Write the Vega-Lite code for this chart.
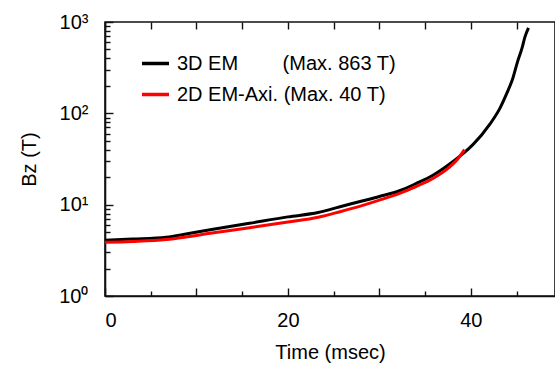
{
  "$schema": "https://vega.github.io/schema/vega-lite/v6.json",
  "width": 450,
  "height": 274,
  "autosize": {"type": "none"},
  "padding": {"left": 105, "top": 22, "right": 0, "bottom": 73},
  "background": "white",
  "config": {
    "view": {"stroke": "#111", "strokeWidth": 1.6},
    "font": "Liberation Sans",
    "axis": {"grid": false, "domainColor": "#111", "domainWidth": 1.6, "tickColor": "#111", "tickWidth": 1.4, "labelColor": "#000", "titleColor": "#000", "labelFont": "Liberation Sans", "titleFont": "Liberation Sans", "titleFontWeight": "normal"}
  },
  "data": {
    "values": [
      {"series": "3D EM", "t": 0, "B": 4.08},
      {"series": "3D EM", "t": 3, "B": 4.2},
      {"series": "3D EM", "t": 6.7, "B": 4.4},
      {"series": "3D EM", "t": 9, "B": 4.8},
      {"series": "3D EM", "t": 11.5, "B": 5.3},
      {"series": "3D EM", "t": 15.8, "B": 6.25},
      {"series": "3D EM", "t": 20, "B": 7.35},
      {"series": "3D EM", "t": 23.3, "B": 8.2},
      {"series": "3D EM", "t": 25.7, "B": 9.5},
      {"series": "3D EM", "t": 28, "B": 10.9},
      {"series": "3D EM", "t": 30, "B": 12.3},
      {"series": "3D EM", "t": 32.2, "B": 14.2},
      {"series": "3D EM", "t": 34, "B": 17},
      {"series": "3D EM", "t": 35.9, "B": 21.1},
      {"series": "3D EM", "t": 37.5, "B": 27},
      {"series": "3D EM", "t": 39.2, "B": 36.6},
      {"series": "3D EM", "t": 40.2, "B": 45.1},
      {"series": "3D EM", "t": 42.1, "B": 76.5},
      {"series": "3D EM", "t": 43.2, "B": 114.6},
      {"series": "3D EM", "t": 43.9, "B": 163},
      {"series": "3D EM", "t": 44.6, "B": 244},
      {"series": "3D EM", "t": 45.1, "B": 366},
      {"series": "3D EM", "t": 45.6, "B": 520},
      {"series": "3D EM", "t": 45.9, "B": 678},
      {"series": "3D EM", "t": 46.3, "B": 863},
      {"series": "2D EM-Axi.", "t": 0, "B": 3.87},
      {"series": "2D EM-Axi.", "t": 3, "B": 3.95},
      {"series": "2D EM-Axi.", "t": 6.7, "B": 4.15},
      {"series": "2D EM-Axi.", "t": 9, "B": 4.45},
      {"series": "2D EM-Axi.", "t": 11.5, "B": 4.86},
      {"series": "2D EM-Axi.", "t": 15.8, "B": 5.6},
      {"series": "2D EM-Axi.", "t": 20, "B": 6.45},
      {"series": "2D EM-Axi.", "t": 23.3, "B": 7.28},
      {"series": "2D EM-Axi.", "t": 25.7, "B": 8.38},
      {"series": "2D EM-Axi.", "t": 28, "B": 9.7},
      {"series": "2D EM-Axi.", "t": 30, "B": 11.2},
      {"series": "2D EM-Axi.", "t": 32.2, "B": 13.3},
      {"series": "2D EM-Axi.", "t": 34, "B": 15.8},
      {"series": "2D EM-Axi.", "t": 35.9, "B": 19.5},
      {"series": "2D EM-Axi.", "t": 37.5, "B": 25},
      {"series": "2D EM-Axi.", "t": 38.5, "B": 31},
      {"series": "2D EM-Axi.", "t": 39.3, "B": 40}
    ]
  },
  "layer": [
    {
      "mark": {"type": "line", "opacity": 0},
      "encoding": {
        "x": {"field": "t", "type": "quantitative", "scale": {"domain": [0, 49.2], "nice": false, "zero": false}, "axis": {"orient": "bottom", "offset": -8, "values": [0, 10, 20, 30, 40], "tickSize": 8, "labels": false, "domain": false, "title": null}},
        "y": {"field": "B", "type": "quantitative", "scale": {"type": "log", "domain": [1, 1000], "nice": false}, "axis": {"orient": "left", "offset": -8, "values": [1, 10, 100, 1000], "tickSize": 8, "labels": false, "domain": false, "title": null}}
      }
    },
    {
      "mark": {"type": "line", "opacity": 0},
      "encoding": {
        "x": {"field": "t", "type": "quantitative", "axis": {"orient": "bottom", "offset": -5, "values": [5, 15, 25, 35, 45], "tickSize": 5, "labels": false, "domain": false, "title": null}},
        "y": {"field": "B", "type": "quantitative", "axis": {"orient": "left", "offset": -5, "values": [2,3,4,5,6,7,8,9,20,30,40,50,60,70,80,90,200,300,400,500,600,700,800,900], "tickSize": 5, "labels": false, "domain": false, "title": null}}
      }
    },
    {
      "mark": {"type": "line", "opacity": 0},
      "encoding": {
        "x": {"field": "t", "type": "quantitative", "axis": {"orient": "top", "offset": -7, "values": [0, 5, 10, 15, 20, 25, 30, 35, 40, 45], "tickSize": 7, "labels": false, "domain": false, "title": null}},
        "y": {"field": "B", "type": "quantitative", "axis": null}
      }
    },
    {
      "mark": {"type": "line", "strokeWidth": 3, "interpolate": "monotone"},
      "encoding": {
        "x": {"field": "t", "type": "quantitative",
          "axis": {"orient": "bottom", "values": [0, 20, 40], "ticks": false, "tickSize": 0,
            "labelFontSize": 20, "labelPadding": 14,
            "title": "Time (msec)", "titleFontSize": 20, "titlePadding": 12}},
        "y": {"field": "B", "type": "quantitative",
          "axis": {"orient": "left", "values": [1, 10, 100, 1000], "ticks": false, "tickSize": 0,
            "labelExpr": "datum.value == 1 ? '10\u2070' : datum.value == 10 ? '10\u00b9' : datum.value == 100 ? '10\u00b2' : '10\u00b3'",
            "labelFontSize": 20, "labelPadding": 17, "title": "Bz (T)", "titleFontSize": 20, "titlePadding": 19}},
        "color": {"field": "series", "type": "nominal", "sort": ["3D EM", "2D EM-Axi."],
          "scale": {"domain": ["3D EM", "2D EM-Axi."], "range": ["#000000", "#ff0000"]},
          "legend": {"title": null, "orient": "none", "legendX": 35, "legendY": 26, "symbolType": "stroke", "symbolSize": 729, "symbolStrokeWidth": 3.5, "labelFontSize": 20, "labelFont": "Liberation Sans", "labelColor": "#000", "rowPadding": 5, "labelOffset": 6, "labelLimit": 400,
            "labelExpr": "datum.label == '3D EM' ? '3D EM\u00a0\u00a0\u00a0\u00a0\u00a0\u00a0\u00a0\u00a0(Max. 863 T)' : '2D EM-Axi. (Max. 40 T)'"}}
      }
    }
  ],
  "resolve": {"axis": {"x": "independent", "y": "independent"}}
}
